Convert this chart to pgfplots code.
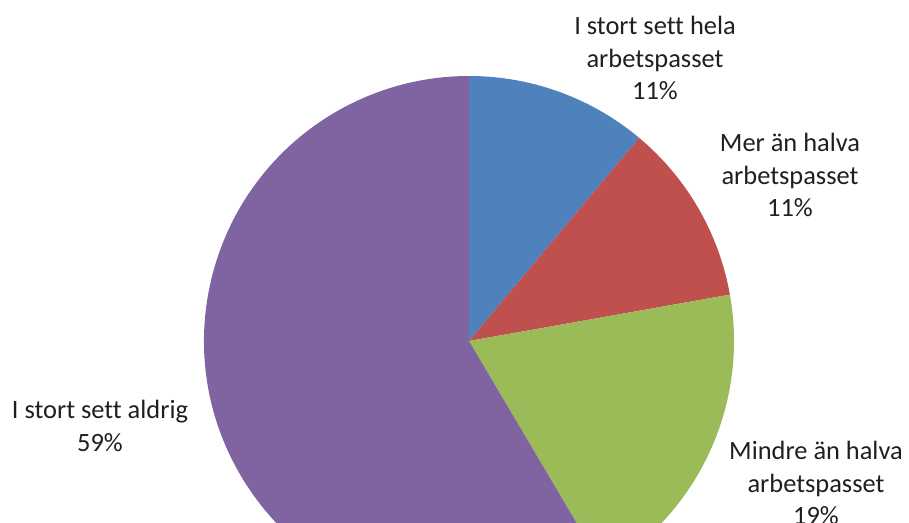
\documentclass[border=0pt]{standalone}
\usepackage{pgfplots}
\usepackage{pgfplotstable}
\pgfplotsset{compat=1.18}
\usepackage{fontspec}
\setmainfont{Carlito}[Ligatures=NoCommon]

\definecolor{pieblue}{HTML}{4F81BD}
\definecolor{piered}{HTML}{C0504D}
\definecolor{piegreen}{HTML}{9BBB59}
\definecolor{piepurple}{HTML}{8064A2}

\tikzset{lbl/.style={font=\fontsize{19.8}{24.4}\selectfont, text=black!88, align=center, inner sep=0pt}}

% share of answers (%), clockwise from twelve o'clock
\pgfplotstableread{
value colour
11.1  pieblue
11.1  piered
19.3  piegreen
58.5  piepurple
}\piedata

\begin{document}
\begin{tikzpicture}
% start and end angle of every slice
\pgfmathsetmacro{\cum}{0}
\foreach \i in {0,...,3}{
  \pgfplotstablegetelem{\i}{value}\of\piedata
  \pgfmathsetmacro{\s}{90-3.6*\cum}
  \pgfmathsetmacro{\newcum}{\cum+\pgfplotsretval}
  \pgfmathsetmacro{\e}{90-3.6*\newcum}
  \expandafter\xdef\csname pieS\i\endcsname{\s}
  \expandafter\xdef\csname pieE\i\endcsname{\e}
  \global\let\cum\newcum
  \pgfplotstablegetelem{\i}{colour}\of\piedata
  \expandafter\xdef\csname pieC\i\endcsname{\pgfplotsretval}
}
\def\pieR{198.75pt}
\begin{axis}[
  at={(0,0)}, anchor=south west,
  x=0.75pt, y=0.75pt,
  xmin=-469, xmax=440, ymin=-181, ymax=341,
  hide axis, clip=true,
]
\pgfplotsinvokeforeach{0,...,3}{
  \fill[\csname pieC#1\endcsname] (axis cs:0,0) -- ++(\csname pieS#1\endcsname:\pieR)
    arc[start angle=\csname pieS#1\endcsname, end angle=\csname pieE#1\endcsname, radius=\pieR] -- cycle;
}
\node[lbl] at (axis cs:186,283) {I stort sett hela\\arbetspasset\\11\%};
\node[lbl] at (axis cs:321,166) {Mer än halva\\arbetspasset\\11\%};
\node[lbl] at (axis cs:347,-142) {Mindre än halva\\arbetspasset\\19\%};
\node[lbl] at (axis cs:-369,-85) {I stort sett aldrig\\59\%};
\end{axis}
\pgfresetboundingbox
\useasboundingbox (current axis.south west) rectangle (current axis.north east);
\end{tikzpicture}
\end{document}
